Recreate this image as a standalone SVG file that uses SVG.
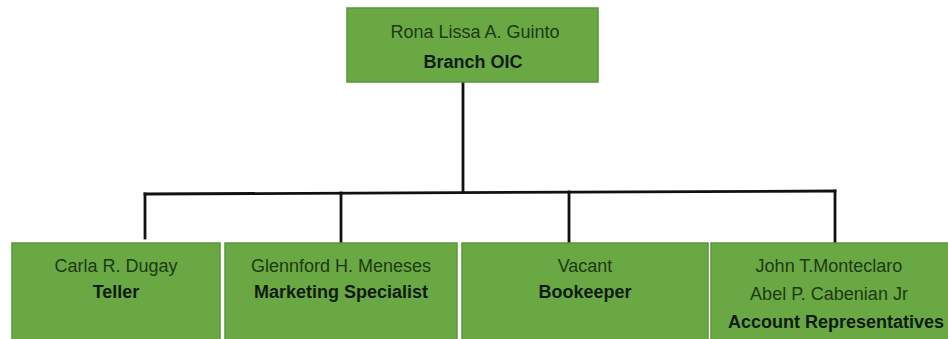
<svg xmlns="http://www.w3.org/2000/svg" width="948" height="339" viewBox="0 0 948 339">
  <style>
    .box { fill: #6aa843; stroke: #5b9638; stroke-width: 1.5; }
    .name { font-family: "Liberation Sans", Arial, sans-serif; font-size: 18px; fill: #1d3a10; text-anchor: middle; }
    .role { font-family: "Liberation Sans", Arial, sans-serif; font-size: 18px; font-weight: bold; fill: #0e1c07; text-anchor: middle; }
    .link { fill: none; stroke: #111; stroke-width: 2.8; stroke-linecap: square; }
  </style>
  <rect width="948" height="339" fill="#ffffff"/>

  <!-- reporting lines -->
  <g id="connectors">
    <path class="link" d="M463 82 V192"/>
    <path class="link" d="M145 194 L835 191"/>
    <path class="link" d="M145 194 V238"/>
    <path class="link" d="M341 193 V243"/>
    <path class="link" d="M569 192 V243"/>
    <path class="link" d="M835 191 V243"/>
  </g>

  <g id="branch-oic">
    <rect class="box" x="347" y="8" width="251" height="74"/>
    <text class="name" x="475" y="38" font-size="19">Rona Lissa A. Guinto</text>
    <text class="role" x="473" y="68">Branch OIC</text>
  </g>

  <g id="teller">
    <rect class="box" x="12" y="243" width="208" height="100"/>
    <text class="name" x="116" y="272">Carla R. Dugay</text>
    <text class="role" x="116" y="298">Teller</text>
  </g>

  <g id="marketing-specialist">
    <rect class="box" x="225" y="243" width="232" height="100"/>
    <text class="name" x="341" y="272">Glennford H. Meneses</text>
    <text class="role" x="341" y="298">Marketing Specialist</text>
  </g>

  <g id="bookkeeper">
    <rect class="box" x="462" y="243" width="246" height="100"/>
    <text class="name" x="585" y="272">Vacant</text>
    <text class="role" x="585" y="298">Bookeeper</text>
  </g>

  <g id="account-representatives">
    <rect class="box" x="711" y="243" width="240" height="100"/>
    <text class="name" x="829" y="272">John T.Monteclaro</text>
    <text class="name" x="829" y="300">Abel P. Cabenian Jr</text>
    <text class="role" x="836" y="328">Account Representatives</text>
  </g>
</svg>
